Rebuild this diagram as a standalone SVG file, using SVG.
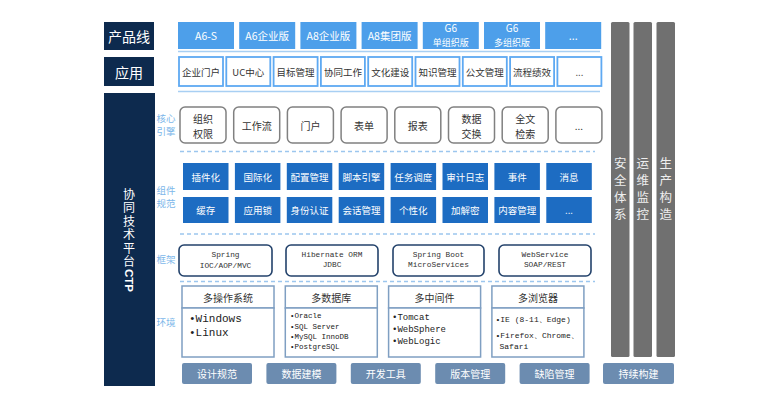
<svg xmlns="http://www.w3.org/2000/svg" width="782" height="400" viewBox="0 0 782 400">
<style>
text{font-family:"Noto Sans CJK SC","Liberation Sans",sans-serif;text-anchor:middle;dominant-baseline:central}
.mono{font-family:"Liberation Mono","DejaVu Sans Mono",monospace}
.lbl{fill:#fff;font-size:14px}
.side{fill:#7db7ea;font-size:9.5px}
.vert{writing-mode:vertical-rl;text-anchor:start}
.vt{fill:#fff;font-size:12px;letter-spacing:1.5px}
.prod rect{fill:#4d9fea}
.prod text{fill:#fff;font-size:10.5px}
.app rect{fill:#fff;stroke:#5ea9f2;stroke-width:1.8}
.app text{fill:#333;font-size:9.5px}
.core rect{fill:#fff;stroke:#808080;stroke-width:1.5}
.core text{fill:#333;font-size:10px}
.comp rect{fill:#1d6cc2}
.comp text{fill:#fff;font-size:9.5px}
.fw rect{fill:#fff;stroke:#23426b;stroke-width:1.6}
.fw text{fill:#333;font-size:7.8px}
.env rect{fill:#fff;stroke:#7f9fc2;stroke-width:1.5}
.env .h{fill:#333;font-size:10px}
.env .b{fill:#222;text-anchor:start}
.tool rect{fill:#6c8cb0}
.tool text{fill:#fff;font-size:10px}
.col rect{fill:#707070}
.col text{fill:#eee;font-size:12.5px;letter-spacing:4.5px}
.solid{stroke:#a8cff3;stroke-width:1.5;fill:none}
.dash{stroke:#9cc6ee;stroke-width:1.5;fill:none;stroke-dasharray:4 3}
</style>
<rect width="782" height="400" fill="#fff"/>

<g id="label-product">
<rect x="104" y="22" width="50" height="28" fill="#0d2a4e"/>
<text class="lbl" x="129" y="36">产品线</text>
</g>
<g id="label-app">
<rect x="104" y="57" width="50" height="29" fill="#0d2a4e"/>
<text class="lbl" x="129" y="71.5">应用</text>
</g>
<g id="label-ctp">
<rect x="104" y="93" width="51" height="293" fill="#0d2a4e"/>
<text class="vt vert" x="129" y="188">协同技术平台<tspan font-family="Liberation Sans,sans-serif" font-weight="bold" font-size="11.5" letter-spacing="0">CTP</tspan></text>
</g>

<g id="side-labels">
<text class="side"><tspan x="166" y="117.5">核心</tspan><tspan x="166" dy="13">引擎</tspan></text>
<text class="side"><tspan x="166" y="190">组件</tspan><tspan x="166" dy="13">规范</tspan></text>
<text class="side" x="166" y="259">框架</text>
<text class="side" x="166" y="321.5">环境</text>
</g>

<g id="connectors">
<line class="solid" x1="178" y1="51.5" x2="600" y2="51.5"/>
<line class="solid" x1="178" y1="91.5" x2="600" y2="91.5"/>
<line class="dash" x1="180" y1="151.5" x2="595" y2="151.5"/>
<line class="dash" x1="180" y1="234" x2="595" y2="234"/>
<line class="dash" x1="180" y1="281.5" x2="595" y2="281.5"/>
</g>

<g id="products" class="prod">
<g id="p1"><rect x="178" y="22" width="56" height="27"/><text x="206" y="35.5">A6-S</text></g>
<g id="p2"><rect x="239.2" y="22" width="56" height="27"/><text x="267.2" y="35.5">A6企业版</text></g>
<g id="p3"><rect x="300.4" y="22" width="56" height="27"/><text x="328.4" y="35.5">A8企业版</text></g>
<g id="p4"><rect x="361.6" y="22" width="56" height="27"/><text x="389.6" y="35.5">A8集团版</text></g>
<g id="p5"><rect x="422.8" y="22" width="56" height="27"/><text><tspan x="450.8" y="27" font-size="10">G6</tspan><tspan x="450.8" y="41.5" font-size="9">单组织版</tspan></text></g>
<g id="p6"><rect x="484" y="22" width="56" height="27"/><text><tspan x="512" y="27" font-size="10">G6</tspan><tspan x="512" y="41.5" font-size="9">多组织版</tspan></text></g>
<g id="p7"><rect x="545.2" y="22" width="56" height="27"/><text x="573.2" y="35.5">...</text></g>
</g>

<g id="apps" class="app">
<g id="a1"><rect x="179" y="57" width="44" height="29"/><text x="201" y="71.5">企业门户</text></g>
<g id="a2"><rect x="226.3" y="57" width="44" height="29"/><text x="248.3" y="71.5">UC中心</text></g>
<g id="a3"><rect x="273.6" y="57" width="44" height="29"/><text x="295.6" y="71.5">目标管理</text></g>
<g id="a4"><rect x="320.9" y="57" width="44" height="29"/><text x="342.9" y="71.5">协同工作</text></g>
<g id="a5"><rect x="368.2" y="57" width="44" height="29"/><text x="390.2" y="71.5">文化建设</text></g>
<g id="a6"><rect x="415.5" y="57" width="44" height="29"/><text x="437.5" y="71.5">知识管理</text></g>
<g id="a7"><rect x="462.8" y="57" width="44" height="29"/><text x="484.8" y="71.5">公文管理</text></g>
<g id="a8"><rect x="510.1" y="57" width="44" height="29"/><text x="532.1" y="71.5">流程绩效</text></g>
<g id="a9"><rect x="557.4" y="57" width="44" height="29"/><text x="579.4" y="71.5">...</text></g>
</g>

<g id="core" class="core">
<g id="c1"><rect x="180" y="107" width="46" height="36" rx="5"/><text><tspan x="203" y="117.5">组织</tspan><tspan x="203" dy="15">权限</tspan></text></g>
<g id="c2"><rect x="233.7" y="107" width="46" height="36" rx="5"/><text x="256.7" y="125">工作流</text></g>
<g id="c3"><rect x="287.4" y="107" width="46" height="36" rx="5"/><text x="310.4" y="125">门户</text></g>
<g id="c4"><rect x="341.1" y="107" width="46" height="36" rx="5"/><text x="364.1" y="125">表单</text></g>
<g id="c5"><rect x="394.8" y="107" width="46" height="36" rx="5"/><text x="417.8" y="125">报表</text></g>
<g id="c6"><rect x="448.5" y="107" width="46" height="36" rx="5"/><text><tspan x="471.5" y="117.5">数据</tspan><tspan x="471.5" dy="15">交换</tspan></text></g>
<g id="c7"><rect x="502.2" y="107" width="46" height="36" rx="5"/><text><tspan x="525.2" y="117.5">全文</tspan><tspan x="525.2" dy="15">检索</tspan></text></g>
<g id="c8"><rect x="555.9" y="107" width="46" height="36" rx="5"/><text x="578.9" y="125">...</text></g>
</g>

<g id="components" class="comp">
<g id="m1"><rect x="183" y="163" width="45.5" height="27"/><text x="205.75" y="176.5">插件化</text></g>
<g id="m2"><rect x="234.9" y="163" width="45.5" height="27"/><text x="257.65" y="176.5">国际化</text></g>
<g id="m3"><rect x="286.8" y="163" width="45.5" height="27"/><text x="309.55" y="176.5">配置管理</text></g>
<g id="m4"><rect x="338.7" y="163" width="45.5" height="27"/><text x="361.45" y="176.5">脚本引擎</text></g>
<g id="m5"><rect x="390.6" y="163" width="45.5" height="27"/><text x="413.35" y="176.5">任务调度</text></g>
<g id="m6"><rect x="442.5" y="163" width="45.5" height="27"/><text x="465.25" y="176.5">审计日志</text></g>
<g id="m7"><rect x="494.4" y="163" width="45.5" height="27"/><text x="517.15" y="176.5">事件</text></g>
<g id="m8"><rect x="546.3" y="163" width="45.5" height="27"/><text x="569.05" y="176.5">消息</text></g>
<g id="n1"><rect x="183" y="197" width="45.5" height="26"/><text x="205.75" y="210">缓存</text></g>
<g id="n2"><rect x="234.9" y="197" width="45.5" height="26"/><text x="257.65" y="210">应用锁</text></g>
<g id="n3"><rect x="286.8" y="197" width="45.5" height="26"/><text x="309.55" y="210">身份认证</text></g>
<g id="n4"><rect x="338.7" y="197" width="45.5" height="26"/><text x="361.45" y="210">会话管理</text></g>
<g id="n5"><rect x="390.6" y="197" width="45.5" height="26"/><text x="413.35" y="210">个性化</text></g>
<g id="n6"><rect x="442.5" y="197" width="45.5" height="26"/><text x="465.25" y="210">加解密</text></g>
<g id="n7"><rect x="494.4" y="197" width="45.5" height="26"/><text x="517.15" y="210">内容管理</text></g>
<g id="n8"><rect x="546.3" y="197" width="45.5" height="26"/><text x="569.05" y="210">...</text></g>
</g>

<g id="frameworks" class="fw">
<g id="f1"><rect x="179" y="245" width="93" height="31" rx="5"/><text class="mono"><tspan x="225.5" y="254.5">Spring</tspan><tspan x="225.5" dy="11.5">IOC/AOP/MVC</tspan></text></g>
<g id="f2"><rect x="286" y="245" width="92" height="31" rx="5"/><text class="mono"><tspan x="332" y="254.5">Hibernate ORM</tspan><tspan x="332" dy="10">JDBC</tspan></text></g>
<g id="f3"><rect x="393" y="245" width="91" height="31" rx="5"/><text class="mono"><tspan x="438.5" y="255">Spring Boot</tspan><tspan x="438.5" dy="10">MicroServices</tspan></text></g>
<g id="f4"><rect x="499" y="245" width="92" height="31" rx="5"/><text class="mono"><tspan x="545" y="255">WebService</tspan><tspan x="545" dy="10">SOAP/REST</tspan></text></g>
</g>

<g id="environments" class="env">
<g id="e1">
<rect x="182" y="286" width="92" height="22"/><rect x="182" y="308" width="92" height="49"/>
<text class="h" x="228" y="297.5">多操作系统</text>
<text class="b mono" font-size="11"><tspan x="189" y="319">•Windows</tspan><tspan x="189" dy="14">•Linux</tspan></text>
</g>
<g id="e2">
<rect x="285.3" y="286" width="92" height="22"/><rect x="285.3" y="308" width="92" height="49"/>
<text class="h" x="331.3" y="297.5">多数据库</text>
<text class="b mono" font-size="7.5"><tspan x="290" y="316">•Oracle</tspan><tspan x="290" dy="10.5">•SQL Server</tspan><tspan x="290" dy="10">•MySQL InnoDB</tspan><tspan x="290" dy="10">•PostgreSQL</tspan></text>
</g>
<g id="e3">
<rect x="388.6" y="286" width="92" height="22"/><rect x="388.6" y="308" width="92" height="49"/>
<text class="h" x="434.6" y="297.5">多中间件</text>
<text class="b mono" font-size="9"><tspan x="392" y="318">•Tomcat</tspan><tspan x="392" dy="12">•WebSphere</tspan><tspan x="392" dy="11.5">•WebLogic</tspan></text>
</g>
<g id="e4">
<rect x="491.9" y="286" width="92" height="22"/><rect x="491.9" y="308" width="92" height="49"/>
<text class="h" x="537.9" y="297.5">多浏览器</text>
<text class="b mono" font-size="8"><tspan x="495.5" y="319">•IE (8-11、Edge)</tspan><tspan x="495.5" dy="15.5">•Firefox、Chrome、</tspan><tspan x="499.5" dy="11.5">Safari</tspan></text>
</g>
</g>

<g id="tools" class="tool">
<g id="t1"><rect x="182" y="363" width="70" height="21" rx="2"/><text x="217" y="373.5">设计规范</text></g>
<g id="t2"><rect x="266.4" y="363" width="70" height="21" rx="2"/><text x="301.4" y="373.5">数据建模</text></g>
<g id="t3"><rect x="350.8" y="363" width="70" height="21" rx="2"/><text x="385.8" y="373.5">开发工具</text></g>
<g id="t4"><rect x="435.2" y="363" width="70" height="21" rx="2"/><text x="470.2" y="373.5">版本管理</text></g>
<g id="t5"><rect x="519.6" y="363" width="70" height="21" rx="2"/><text x="554.6" y="373.5">缺陷管理</text></g>
<g id="t6"><rect x="603" y="363" width="71" height="21" rx="2"/><text x="638.5" y="373.5">持续构建</text></g>
</g>

<g id="columns" class="col">
<g id="col1"><rect x="611" y="22" width="18.5" height="335" rx="1.5"/><text class="vert" x="620.2" y="156.7">安全体系</text></g>
<g id="col2"><rect x="633.5" y="22" width="18.5" height="335" rx="1.5"/><text class="vert" x="642.7" y="156.7">运维监控</text></g>
<g id="col3"><rect x="656.5" y="22" width="18.5" height="335" rx="1.5"/><text class="vert" x="665.7" y="156.7">生产构造</text></g>
</g>
</svg>
